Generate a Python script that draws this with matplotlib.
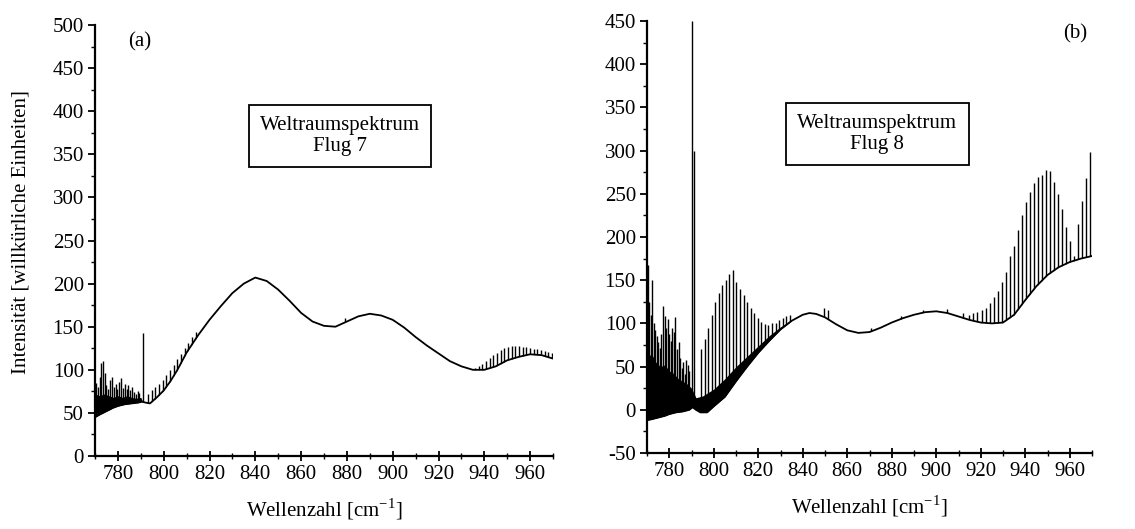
import numpy as np
import matplotlib
matplotlib.use('Agg')
import matplotlib.pyplot as plt
from matplotlib.ticker import MultipleLocator

plt.rcParams['font.family'] = ['Liberation Serif', 'DejaVu Serif']
plt.rcParams['mathtext.fontset'] = 'custom'
plt.rcParams['mathtext.rm'] = 'Liberation Serif'
plt.rcParams['axes.unicode_minus'] = False

# ---- panel (a): Flug 7 ----
base_a_wn = [770, 772, 775, 778, 780, 783, 786, 789, 790.5, 792, 794, 797, 800, 803, 806, 810,
             815, 820, 825, 830, 835, 840, 845, 850, 855, 860, 865, 870, 875, 880, 885, 890,
             895, 900, 905, 910, 915, 920, 925, 930, 935, 940, 945, 950, 955, 960, 965, 970]
base_a = [45, 48, 52, 56, 58, 60, 61, 62, 63, 62, 61, 68, 76, 87, 100, 120,
          140, 158, 174, 189, 200, 207, 203, 193, 180, 166, 156, 151, 150, 156, 162, 165,
          163, 158, 149, 138, 128, 119, 110, 104, 100, 100, 104, 111, 115, 118, 117, 113]

band_a_wn = [770, 772, 774, 776, 778, 780, 782, 784, 786, 788, 790, 791]
band_a_hi = [72, 70, 72, 70, 68, 70, 68, 70, 68, 67, 68, 62]

spk_a_wn = [770.5, 771.2, 772.0, 772.8, 773.5, 774.3, 775.0, 775.8, 776.6, 777.4,
            778.2, 779.0, 779.8, 780.6, 781.4, 782.2, 783.0, 783.8, 784.6, 785.4,
            786.2, 787.0, 787.8, 788.6, 789.4, 790.8,
            793.2, 794.8, 796.4, 798.0, 799.6, 801.2, 802.8, 804.4, 806.0, 807.6,
            809.2, 810.8, 812.4, 814.0, 879.0,
            936.0, 937.6, 939.2, 940.8, 942.4, 944.0, 945.6, 947.2, 948.8, 950.4,
            952.0, 953.6, 955.2, 956.8, 958.4, 960.0, 961.6, 963.2, 964.8, 966.4,
            968.0, 969.6]
spk_a_hi = [85, 80, 92, 108, 110, 96, 82, 78, 88, 92,
            80, 84, 78, 86, 90, 79, 84, 78, 82, 76,
            80, 74, 72, 75, 73, 143,
            72, 76, 80, 84, 88, 94, 100, 106, 112, 118,
            125, 131, 138, 144, 160,
            102, 104, 107, 110, 114, 117, 120, 123, 125, 127,
            128, 128, 128, 127, 126, 125, 124, 124, 123, 122,
            121, 120]

# ---- panel (b): Flug 8 ----
base_b_wn = [770, 772, 775, 778, 780, 783, 786, 789, 790.5, 792, 794, 797, 800, 805, 810, 815,
             820, 825, 830, 835, 840, 843, 846, 850, 855, 860, 865, 870, 875, 880, 885, 890,
             895, 900, 905, 910, 915, 920, 925, 930, 935, 940, 945, 950, 955, 960, 965, 970]
base_b = [-12, -11, -9, -7, -5, -3, -2, 0, 3, 0, -3, -3, 4, 15, 33, 50,
          66, 80, 93, 103, 110, 112, 111, 107, 99, 92, 89, 90, 95, 101, 106, 110,
          113, 114, 112, 108, 104, 101, 100, 101, 110, 127, 143, 156, 165, 171, 175, 178]

band_b_wn = [770, 772, 774, 776, 778, 780, 782, 784, 786, 788, 790, 792, 795, 800,
             805, 810, 815, 820, 825, 830, 835]
band_b_hi = [60, 65, 55, 50, 52, 45, 42, 36, 33, 30, 25, 14, 16, 24,
             36, 50, 62, 74, 86, 96, 104]

spk_b_wn = [770.3, 770.9, 771.6, 772.3, 773.0, 773.7, 774.4, 775.1, 775.8, 776.5,
            777.2, 777.9, 778.6, 779.3, 780.0, 780.7, 781.4, 782.1, 782.8, 783.5,
            784.2, 784.9, 785.6, 786.3, 787.0, 787.7, 788.4, 789.1,
            790.3, 791.0,
            794.4, 795.9, 797.4, 799.0, 800.6, 802.2, 803.8, 805.4, 807.0, 808.6,
            810.2, 811.8, 813.4, 815.0, 816.6, 818.2, 819.8, 821.4, 823.0, 824.6,
            826.2, 827.8, 829.4, 831.0, 832.6, 834.2,
            849.5, 851.5, 870.5, 884.0, 894.0, 905.0, 912.0, 914.5, 916.5, 918.5,
            920.5, 922.3, 924.1, 925.9, 927.7, 929.5, 931.3, 933.1, 934.9, 936.7,
            938.5, 940.3, 942.1, 943.9, 945.7, 947.5, 949.3, 951.1, 952.9, 954.7,
            956.5, 958.3, 960.1, 961.9, 963.7, 965.5, 967.3, 969.1]
spk_b_hi = [168, 125, 110, 150, 100, 92, 85, 78, 72, 88,
            120, 108, 95, 105, 88, 80, 95, 90, 107, 70,
            78, 60, 48, 55, 42, 58, 52, 45,
            450, 300,
            70, 82, 95, 110, 125, 135, 145, 150, 157, 162,
            148, 140, 133, 125, 118, 112, 106, 102, 99, 98,
            100, 101, 104, 106, 108, 110,
            118, 116, 95, 108, 115, 117, 112, 110, 112, 113,
            115, 118, 124, 130, 138, 148, 160, 178, 190, 208,
            225, 240, 252, 262, 270, 272, 278, 276, 264, 250,
            232, 212, 195, 178, 215, 242, 268, 298]


def draw(ax, base_wn, base, band_wn, band_hi, spk_wn, spk_hi, floor):
    ax.vlines(spk_wn, floor, spk_hi, color='k', lw=1.0, zorder=1)
    ax.fill_between(band_wn, floor, band_hi, color='k', lw=0, zorder=1)
    # white mask under the baseline hides the lower ends of the lines
    ax.fill_between(base_wn, floor, base, color='white', lw=0, zorder=1.5)
    ax.plot(base_wn, base, color='k', lw=1.3, zorder=2)


def style(ax, ylo, yhi):
    ax.set_xlim(770, 970)
    ax.set_ylim(ylo, yhi)
    ax.set_xticks(np.arange(780, 961, 20))
    ax.xaxis.set_minor_locator(MultipleLocator(10))
    ax.set_yticks(np.arange(ylo, yhi + 1, 50))
    ax.yaxis.set_minor_locator(MultipleLocator(25))
    for s in ['top', 'right']:
        ax.spines[s].set_visible(False)
    for s in ['left', 'bottom']:
        ax.spines[s].set_linewidth(1.6)
    ax.tick_params(axis='y', which='major', direction='out', length=5, width=1.3,
                   labelsize=15, pad=3)
    ax.tick_params(axis='y', which='minor', direction='out', length=3, width=1.0)
    ax.tick_params(axis='x', which='major', direction='inout', length=7, width=1.3,
                   labelsize=15, pad=3)
    ax.tick_params(axis='x', which='minor', direction='inout', length=5, width=1.0)
    ax.set_xlabel(r'Wellenzahl [cm$^{-1}$]', fontsize=15, labelpad=9)


fig = plt.figure(figsize=(11.35, 5.29), dpi=100)
ax1 = fig.add_axes([95 / 1135, 1 - 456 / 529, 458 / 1135, 431 / 529])
ax2 = fig.add_axes([647 / 1135, 1 - 453 / 529, 445 / 1135, 432 / 529])

draw(ax1, base_a_wn, base_a, band_a_wn, band_a_hi, spk_a_wn, spk_a_hi, 0)
style(ax1, 0, 500)
ax1.set_ylabel('Intensität [willkürliche Einheiten]', fontsize=15)
ax1.yaxis.set_label_coords(-0.14, 0.52)
ax1.text(789.5, 480, '(a)', fontsize=15, ha='center', va='center')
ax1.text(877, 371, 'Weltraumspektrum\nFlug 7', fontsize=15, ha='center', va='center',
         linespacing=1.1,
         bbox=dict(boxstyle='square,pad=0.55', fc='white', ec='k', lw=1.3))

draw(ax2, base_b_wn, base_b, band_b_wn, band_b_hi, spk_b_wn, spk_b_hi, -50)
style(ax2, -50, 450)
ax2.text(962.5, 435, '(b)', fontsize=15, ha='center', va='center')
ax2.text(873.5, 319, 'Weltraumspektrum\nFlug 8', fontsize=15, ha='center', va='center',
         linespacing=1.1,
         bbox=dict(boxstyle='square,pad=0.55', fc='white', ec='k', lw=1.3))

fig.savefig('out.png', dpi=100)
